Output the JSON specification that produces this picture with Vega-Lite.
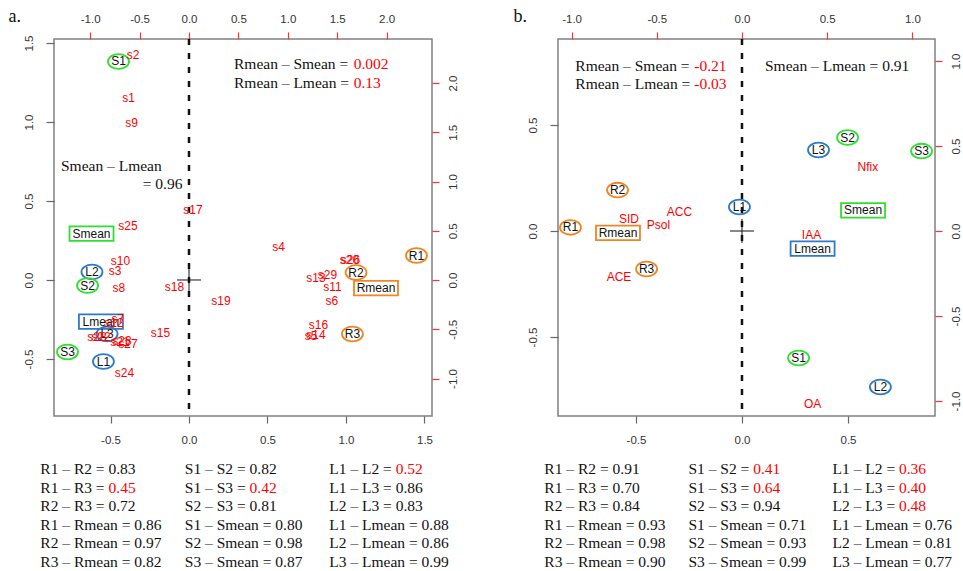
{
  "$schema": "https://vega.github.io/schema/vega-lite/v6.json",
  "padding": {"left": 7, "top": 6, "right": 5, "bottom": 5},
  "background": "white",
  "columns": 2,
  "spacing": {"row": 30, "column": 126},
  "bounds": "flush",
  "datasets": {
    "a_pts": [
      {"label": "S1", "kind": "ellipse", "grp": "S", "x": -0.449, "y": 1.383},
      {"label": "R1", "kind": "ellipse", "grp": "R", "x": 1.449, "y": 0.155},
      {"label": "R2", "kind": "ellipse", "grp": "R", "x": 1.064, "y": 0.047},
      {"label": "R3", "kind": "ellipse", "grp": "R", "x": 1.041, "y": -0.342},
      {"label": "L2", "kind": "ellipse", "grp": "L", "x": -0.618, "y": 0.051},
      {"label": "S2", "kind": "ellipse", "grp": "S", "x": -0.646, "y": -0.035},
      {"label": "L3", "kind": "ellipse", "grp": "L", "x": -0.522, "y": -0.342},
      {"label": "S3", "kind": "ellipse", "grp": "S", "x": -0.774, "y": -0.456},
      {"label": "L1", "kind": "ellipse", "grp": "L", "x": -0.545, "y": -0.516},
      {"label": "Smean", "kind": "box", "grp": "S", "x": -0.621, "y": 0.294},
      {"label": "Rmean", "kind": "box", "grp": "R", "x": 1.191, "y": -0.051},
      {"label": "Lmean", "kind": "box", "grp": "L", "x": -0.561, "y": -0.263}
    ],
    "a_vars": [
      {"label": "s2", "x": -0.567, "y": 2.284},
      {"label": "s1", "x": -0.612, "y": 1.848},
      {"label": "s9", "x": -0.582, "y": 1.589},
      {"label": "s17", "x": 0.04, "y": 0.711},
      {"label": "s25", "x": -0.617, "y": 0.548},
      {"label": "s4", "x": 0.906, "y": 0.33},
      {"label": "s10", "x": -0.693, "y": 0.193},
      {"label": "s3", "x": -0.749, "y": 0.091},
      {"label": "s20", "x": 1.624, "y": 0.203},
      {"label": "s26", "x": 1.635, "y": 0.208},
      {"label": "s13", "x": 1.285, "y": 0.02},
      {"label": "s29", "x": 1.402, "y": 0.051},
      {"label": "s11", "x": 1.452, "y": -0.066},
      {"label": "s6", "x": 1.447, "y": -0.213},
      {"label": "s16", "x": 1.311, "y": -0.457},
      {"label": "s5", "x": 1.235, "y": -0.569},
      {"label": "s14", "x": 1.285, "y": -0.558},
      {"label": "s8", "x": -0.709, "y": -0.081},
      {"label": "s18", "x": -0.147, "y": -0.066},
      {"label": "s19", "x": 0.324, "y": -0.213},
      {"label": "s7", "x": -0.719, "y": -0.396},
      {"label": "s12", "x": -0.759, "y": -0.437},
      {"label": "s28", "x": -0.931, "y": -0.579},
      {"label": "s22", "x": -0.891, "y": -0.579},
      {"label": "s21", "x": -0.698, "y": -0.629},
      {"label": "s23", "x": -0.678, "y": -0.619},
      {"label": "s27", "x": -0.617, "y": -0.65},
      {"label": "s15", "x": -0.288, "y": -0.533},
      {"label": "s24", "x": -0.653, "y": -0.949}
    ],
    "a_notes": [
      {"text": "Rmean – Smean =", "part": "label", "x": 0.2866, "y": 1.3652},
      {"text": "0.002", "part": "value", "x": 1.049, "y": 1.3652},
      {"text": "Rmean – Lmean =", "part": "label", "x": 0.2866, "y": 1.2487},
      {"text": "0.13", "part": "value", "x": 1.049, "y": 1.2487},
      {"text": "Smean – Lmean", "part": "label", "x": -0.8153, "y": 0.7215},
      {"text": "= 0.96", "part": "label", "x": -0.2949, "y": 0.6057}
    ],
    "a_tab": [
      {"col": 1, "row": 1, "grp": "R", "lhs": "R1 – R2 = 0.83", "val": ""},
      {"col": 1, "row": 2, "grp": "R", "lhs": "R1 – R3 =", "val": "0.45"},
      {"col": 1, "row": 3, "grp": "R", "lhs": "R2 – R3 = 0.72", "val": ""},
      {"col": 1, "row": 4, "grp": "R", "lhs": "R1 – Rmean = 0.86", "val": ""},
      {"col": 1, "row": 5, "grp": "R", "lhs": "R2 – Rmean = 0.97", "val": ""},
      {"col": 1, "row": 6, "grp": "R", "lhs": "R3 – Rmean = 0.82", "val": ""},
      {"col": 2, "row": 1, "grp": "S", "lhs": "S1 – S2 = 0.82", "val": ""},
      {"col": 2, "row": 2, "grp": "S", "lhs": "S1 – S3 =", "val": "0.42"},
      {"col": 2, "row": 3, "grp": "S", "lhs": "S2 – S3 = 0.81", "val": ""},
      {"col": 2, "row": 4, "grp": "S", "lhs": "S1 – Smean = 0.80", "val": ""},
      {"col": 2, "row": 5, "grp": "S", "lhs": "S2 – Smean = 0.98", "val": ""},
      {"col": 2, "row": 6, "grp": "S", "lhs": "S3 – Smean = 0.87", "val": ""},
      {"col": 3, "row": 1, "grp": "L", "lhs": "L1 – L2 =", "val": "0.52"},
      {"col": 3, "row": 2, "grp": "L", "lhs": "L1 – L3 = 0.86", "val": ""},
      {"col": 3, "row": 3, "grp": "L", "lhs": "L2 – L3 = 0.83", "val": ""},
      {"col": 3, "row": 4, "grp": "L", "lhs": "L1 – Lmean = 0.88", "val": ""},
      {"col": 3, "row": 5, "grp": "L", "lhs": "L2 – Lmean = 0.86", "val": ""},
      {"col": 3, "row": 6, "grp": "L", "lhs": "L3 – Lmean = 0.99", "val": ""}
    ],
    "b_pts": [
      {"label": "S2", "kind": "ellipse", "grp": "S", "x": 0.498, "y": 0.441},
      {"label": "L3", "kind": "ellipse", "grp": "L", "x": 0.361, "y": 0.382},
      {"label": "S3", "kind": "ellipse", "grp": "S", "x": 0.847, "y": 0.377},
      {"label": "R2", "kind": "ellipse", "grp": "R", "x": -0.587, "y": 0.193},
      {"label": "L1", "kind": "ellipse", "grp": "L", "x": -0.012, "y": 0.113},
      {"label": "R1", "kind": "ellipse", "grp": "R", "x": -0.809, "y": 0.017},
      {"label": "R3", "kind": "ellipse", "grp": "R", "x": -0.45, "y": -0.179},
      {"label": "S1", "kind": "ellipse", "grp": "S", "x": 0.267, "y": -0.599},
      {"label": "L2", "kind": "ellipse", "grp": "L", "x": 0.653, "y": -0.736},
      {"label": "Rmean", "kind": "box", "grp": "R", "x": -0.585, "y": -0.009},
      {"label": "Smean", "kind": "box", "grp": "S", "x": 0.571, "y": 0.097},
      {"label": "Lmean", "kind": "box", "grp": "L", "x": 0.333, "y": -0.083}
    ],
    "b_vars": [
      {"label": "Nfix", "x": 0.739, "y": 0.379},
      {"label": "ACC", "x": -0.367, "y": 0.109},
      {"label": "SID", "x": -0.663, "y": 0.068},
      {"label": "Psol", "x": -0.49, "y": 0.038},
      {"label": "IAA", "x": 0.408, "y": -0.021},
      {"label": "ACE", "x": -0.722, "y": -0.271},
      {"label": "OA", "x": 0.414, "y": -1.015}
    ],
    "b_notes": [
      {"text": "Rmean – Smean =", "part": "label", "x": -0.7863, "y": 0.7783},
      {"text": "-0.21", "part": "value", "x": -0.225, "y": 0.7783},
      {"text": "Rmean – Lmean =", "part": "label", "x": -0.7863, "y": 0.692},
      {"text": "-0.03", "part": "value", "x": -0.225, "y": 0.692},
      {"text": "Smean – Lmean = 0.91", "part": "label", "x": 0.1085, "y": 0.7783}
    ],
    "b_tab": [
      {"col": 1, "row": 1, "grp": "R", "lhs": "R1 – R2 = 0.91", "val": ""},
      {"col": 1, "row": 2, "grp": "R", "lhs": "R1 – R3 = 0.70", "val": ""},
      {"col": 1, "row": 3, "grp": "R", "lhs": "R2 – R3 = 0.84", "val": ""},
      {"col": 1, "row": 4, "grp": "R", "lhs": "R1 – Rmean = 0.93", "val": ""},
      {"col": 1, "row": 5, "grp": "R", "lhs": "R2 – Rmean = 0.98", "val": ""},
      {"col": 1, "row": 6, "grp": "R", "lhs": "R3 – Rmean = 0.90", "val": ""},
      {"col": 2, "row": 1, "grp": "S", "lhs": "S1 – S2 =", "val": "0.41"},
      {"col": 2, "row": 2, "grp": "S", "lhs": "S1 – S3 =", "val": "0.64"},
      {"col": 2, "row": 3, "grp": "S", "lhs": "S2 – S3 = 0.94", "val": ""},
      {"col": 2, "row": 4, "grp": "S", "lhs": "S1 – Smean = 0.71", "val": ""},
      {"col": 2, "row": 5, "grp": "S", "lhs": "S2 – Smean = 0.93", "val": ""},
      {"col": 2, "row": 6, "grp": "S", "lhs": "S3 – Smean = 0.99", "val": ""},
      {"col": 3, "row": 1, "grp": "L", "lhs": "L1 – L2 =", "val": "0.36"},
      {"col": 3, "row": 2, "grp": "L", "lhs": "L1 – L3 =", "val": "0.40"},
      {"col": 3, "row": 3, "grp": "L", "lhs": "L2 – L3 =", "val": "0.48"},
      {"col": 3, "row": 4, "grp": "L", "lhs": "L1 – Lmean = 0.76", "val": ""},
      {"col": 3, "row": 5, "grp": "L", "lhs": "L2 – Lmean = 0.81", "val": ""},
      {"col": 3, "row": 6, "grp": "L", "lhs": "L3 – Lmean = 0.77", "val": ""}
    ]
  },
  "concat": [
    {
      "width": 378,
      "height": 377,
      "layer": [
        {
          "data": {"values": [{"x": 0}]},
          "mark": {"type": "rule", "strokeDash": [6, 8], "strokeWidth": 2.5, "color": "#111"},
          "encoding": {
            "x": {"field": "x", "type": "quantitative", "scale": {"domain": [-0.8599, 1.5478], "nice": false, "zero": false},
              "axis": {"orient": "bottom", "values": [-0.5, 0, 0.5, 1, 1.5], "labelExpr": "replace(format(datum.value,'.1f'),'−','-')", "tickSize": 7, "labelPadding": 11, "title": null}}
          }
        },
        {
          "data": {"values": [{"x": 0, "y": 0}]},
          "mark": {"type": "point", "shape": "M-1,0L1,0M0,-1L0,1", "size": 576, "filled": false, "stroke": "#111", "strokeWidth": 1, "opacity": 1},
          "encoding": {
            "x": {"field": "x", "type": "quantitative", "scale": {"domain": [-0.8599, 1.5478], "nice": false, "zero": false}, "axis": null},
            "y": {"field": "y", "type": "quantitative", "scale": {"domain": [-0.8608, 1.5253], "nice": false, "zero": false},
              "axis": {"orient": "left", "values": [-0.5, 0, 0.5, 1, 1.5], "labelExpr": "replace(format(datum.value,'.1f'),'−','-')", "tickSize": 8, "labelPadding": 12, "labelAngle": -90, "labelAlign": "center", "labelBaseline": "bottom",
                "title": "a.", "titleX": -46, "titleY": -18, "titleAngle": 0, "titleAlign": "left", "titleBaseline": "alphabetic", "titleFont": "Liberation Serif", "titleFontSize": 18, "titleFontWeight": "normal", "titleColor": "#111"}}
          }
        },
        {
          "data": {"name": "a_pts"},
          "transform": [{"filter": "datum.kind == 'ellipse'"}],
          "mark": {"type": "point", "shape": "M-1,0A1,0.7,0,1,1,1,0A1,0.7,0,1,1,-1,0Z", "size": 441, "filled": false, "strokeWidth": 1.8, "opacity": 1},
          "encoding": {
            "x": {"field": "x", "type": "quantitative", "scale": {"domain": [-0.8599, 1.5478], "nice": false, "zero": false}, "axis": null},
            "y": {"field": "y", "type": "quantitative", "scale": {"domain": [-0.8608, 1.5253], "nice": false, "zero": false}, "axis": null},
            "color": {"field": "grp", "type": "nominal", "scale": {"domain": ["R", "S", "L"], "range": ["#f28522", "#2fe02f", "#2b7bc8"]}, "legend": null}
          }
        },
        {
          "data": {"name": "a_pts"},
          "transform": [{"filter": "datum.kind == 'box'"}],
          "mark": {"type": "point", "shape": "M-1,-0.33L1,-0.33L1,0.33L-1,0.33Z", "size": 1936, "filled": false, "strokeWidth": 1.8, "opacity": 1},
          "encoding": {
            "x": {"field": "x", "type": "quantitative", "scale": {"domain": [-0.8599, 1.5478], "nice": false, "zero": false}, "axis": null},
            "y": {"field": "y", "type": "quantitative", "scale": {"domain": [-0.8608, 1.5253], "nice": false, "zero": false}, "axis": null},
            "color": {"field": "grp", "type": "nominal", "scale": {"domain": ["R", "S", "L"], "range": ["#f28522", "#2fe02f", "#2b7bc8"]}, "legend": null}
          }
        },
        {
          "data": {"name": "a_pts"},
          "mark": {"type": "text", "font": "Liberation Sans", "fontSize": 12, "color": "#111", "align": "center", "baseline": "middle"},
          "encoding": {
            "x": {"field": "x", "type": "quantitative", "scale": {"domain": [-0.8599, 1.5478], "nice": false, "zero": false}, "axis": null},
            "y": {"field": "y", "type": "quantitative", "scale": {"domain": [-0.8608, 1.5253], "nice": false, "zero": false}, "axis": null},
            "text": {"field": "label"}
          }
        },
        {
          "data": {"name": "a_notes"},
          "transform": [{"filter": "datum.part == 'label'"}],
          "mark": {"type": "text", "font": "Liberation Serif", "fontSize": 15.5, "color": "#111", "align": "left", "baseline": "middle"},
          "encoding": {
            "x": {"field": "x", "type": "quantitative", "scale": {"domain": [-0.8599, 1.5478], "nice": false, "zero": false}, "axis": null},
            "y": {"field": "y", "type": "quantitative", "scale": {"domain": [-0.8608, 1.5253], "nice": false, "zero": false}, "axis": null},
            "text": {"field": "text"}
          }
        },
        {
          "data": {"name": "a_notes"},
          "transform": [{"filter": "datum.part == 'value'"}],
          "mark": {"type": "text", "font": "Liberation Serif", "fontSize": 15.5, "color": "#ff0000", "align": "left", "baseline": "middle"},
          "encoding": {
            "x": {"field": "x", "type": "quantitative", "scale": {"domain": [-0.8599, 1.5478], "nice": false, "zero": false}, "axis": null},
            "y": {"field": "y", "type": "quantitative", "scale": {"domain": [-0.8608, 1.5253], "nice": false, "zero": false}, "axis": null},
            "text": {"field": "text"}
          }
        },
        {
          "data": {"name": "a_vars"},
          "mark": {"type": "text", "font": "Liberation Sans", "fontSize": 12, "color": "#ff0000", "align": "center", "baseline": "middle"},
          "encoding": {
            "x": {"field": "x", "type": "quantitative", "scale": {"domain": [-1.3664, 2.4595], "nice": false, "zero": false},
              "axis": {"orient": "top", "values": [-1, -0.5, 0, 0.5, 1, 1.5, 2], "labelExpr": "replace(format(datum.value,'.1f'),'−','-')", "tickSize": 7, "tickColor": "#ff3333", "labelPadding": 8, "title": null}},
            "y": {"field": "y", "type": "quantitative", "scale": {"domain": [-1.3807, 2.4467], "nice": false, "zero": false},
              "axis": {"orient": "right", "values": [-1, -0.5, 0, 0.5, 1, 1.5, 2], "labelExpr": "replace(format(datum.value,'.1f'),'−','-')", "tickSize": 7, "tickColor": "#ff3333", "labelPadding": 8, "labelAngle": -90, "labelAlign": "center", "labelBaseline": "top", "title": null}},
            "text": {"field": "label"}
          }
        }
      ],
      "resolve": {"scale": {"x": "independent", "y": "independent"}}
    },
    {
      "width": 377,
      "height": 377,
      "layer": [
        {
          "data": {"values": [{"x": 0}]},
          "mark": {"type": "rule", "strokeDash": [6, 8], "strokeWidth": 2.5, "color": "#111"},
          "encoding": {
            "x": {"field": "x", "type": "quantitative", "scale": {"domain": [-0.8679, 0.9104], "nice": false, "zero": false},
              "axis": {"orient": "bottom", "values": [-0.5, 0, 0.5], "labelExpr": "replace(format(datum.value,'.1f'),'−','-')", "tickSize": 7, "labelPadding": 11, "title": null}}
          }
        },
        {
          "data": {"values": [{"x": 0, "y": 0}]},
          "mark": {"type": "point", "shape": "M-1,0L1,0M0,-1L0,1", "size": 576, "filled": false, "stroke": "#111", "strokeWidth": 1, "opacity": 1},
          "encoding": {
            "x": {"field": "x", "type": "quantitative", "scale": {"domain": [-0.8679, 0.9104], "nice": false, "zero": false}, "axis": null},
            "y": {"field": "y", "type": "quantitative", "scale": {"domain": [-0.8726, 0.9057], "nice": false, "zero": false},
              "axis": {"orient": "left", "values": [-0.5, 0, 0.5], "labelExpr": "replace(format(datum.value,'.1f'),'−','-')", "tickSize": 8, "labelPadding": 12, "labelAngle": -90, "labelAlign": "center", "labelBaseline": "bottom",
                "title": "b.", "titleX": -45, "titleY": -18, "titleAngle": 0, "titleAlign": "left", "titleBaseline": "alphabetic", "titleFont": "Liberation Serif", "titleFontSize": 18, "titleFontWeight": "normal", "titleColor": "#111"}}
          }
        },
        {
          "data": {"name": "b_pts"},
          "transform": [{"filter": "datum.kind == 'ellipse'"}],
          "mark": {"type": "point", "shape": "M-1,0A1,0.7,0,1,1,1,0A1,0.7,0,1,1,-1,0Z", "size": 441, "filled": false, "strokeWidth": 1.8, "opacity": 1},
          "encoding": {
            "x": {"field": "x", "type": "quantitative", "scale": {"domain": [-0.8679, 0.9104], "nice": false, "zero": false}, "axis": null},
            "y": {"field": "y", "type": "quantitative", "scale": {"domain": [-0.8726, 0.9057], "nice": false, "zero": false}, "axis": null},
            "color": {"field": "grp", "type": "nominal", "scale": {"domain": ["R", "S", "L"], "range": ["#f28522", "#2fe02f", "#2b7bc8"]}, "legend": null}
          }
        },
        {
          "data": {"name": "b_pts"},
          "transform": [{"filter": "datum.kind == 'box'"}],
          "mark": {"type": "point", "shape": "M-1,-0.33L1,-0.33L1,0.33L-1,0.33Z", "size": 1936, "filled": false, "strokeWidth": 1.8, "opacity": 1},
          "encoding": {
            "x": {"field": "x", "type": "quantitative", "scale": {"domain": [-0.8679, 0.9104], "nice": false, "zero": false}, "axis": null},
            "y": {"field": "y", "type": "quantitative", "scale": {"domain": [-0.8726, 0.9057], "nice": false, "zero": false}, "axis": null},
            "color": {"field": "grp", "type": "nominal", "scale": {"domain": ["R", "S", "L"], "range": ["#f28522", "#2fe02f", "#2b7bc8"]}, "legend": null}
          }
        },
        {
          "data": {"name": "b_pts"},
          "mark": {"type": "text", "font": "Liberation Sans", "fontSize": 12, "color": "#111", "align": "center", "baseline": "middle"},
          "encoding": {
            "x": {"field": "x", "type": "quantitative", "scale": {"domain": [-0.8679, 0.9104], "nice": false, "zero": false}, "axis": null},
            "y": {"field": "y", "type": "quantitative", "scale": {"domain": [-0.8726, 0.9057], "nice": false, "zero": false}, "axis": null},
            "text": {"field": "label"}
          }
        },
        {
          "data": {"name": "b_notes"},
          "transform": [{"filter": "datum.part == 'label'"}],
          "mark": {"type": "text", "font": "Liberation Serif", "fontSize": 15.5, "color": "#111", "align": "left", "baseline": "middle"},
          "encoding": {
            "x": {"field": "x", "type": "quantitative", "scale": {"domain": [-0.8679, 0.9104], "nice": false, "zero": false}, "axis": null},
            "y": {"field": "y", "type": "quantitative", "scale": {"domain": [-0.8726, 0.9057], "nice": false, "zero": false}, "axis": null},
            "text": {"field": "text"}
          }
        },
        {
          "data": {"name": "b_notes"},
          "transform": [{"filter": "datum.part == 'value'"}],
          "mark": {"type": "text", "font": "Liberation Serif", "fontSize": 15.5, "color": "#ff0000", "align": "left", "baseline": "middle"},
          "encoding": {
            "x": {"field": "x", "type": "quantitative", "scale": {"domain": [-0.8679, 0.9104], "nice": false, "zero": false}, "axis": null},
            "y": {"field": "y", "type": "quantitative", "scale": {"domain": [-0.8726, 0.9057], "nice": false, "zero": false}, "axis": null},
            "text": {"field": "text"}
          }
        },
        {
          "data": {"name": "b_vars"},
          "mark": {"type": "text", "font": "Liberation Sans", "fontSize": 12, "color": "#ff0000", "align": "center", "baseline": "middle"},
          "encoding": {
            "x": {"field": "x", "type": "quantitative", "scale": {"domain": [-1.0798, 1.1326], "nice": false, "zero": false},
              "axis": {"orient": "top", "values": [-1, -0.5, 0, 0.5, 1], "labelExpr": "replace(format(datum.value,'.1f'),'−','-')", "tickSize": 7, "tickColor": "#ff3333", "labelPadding": 8, "title": null}},
            "y": {"field": "y", "type": "quantitative", "scale": {"domain": [-1.0882, 1.1294], "nice": false, "zero": false},
              "axis": {"orient": "right", "values": [-1, -0.5, 0, 0.5, 1], "labelExpr": "replace(format(datum.value,'.1f'),'−','-')", "tickSize": 7, "tickColor": "#ff3333", "labelPadding": 8, "labelAngle": -90, "labelAlign": "center", "labelBaseline": "top", "title": null}},
            "text": {"field": "label"}
          }
        }
      ],
      "resolve": {"scale": {"x": "independent", "y": "independent"}}
    },
    {
      "width": 378,
      "height": 130,
      "view": {"stroke": null},
      "data": {"name": "a_tab"},
      "encoding": {
        "x": {"field": "col", "type": "quantitative", "scale": {"domain": [1.0948, 3.7107], "nice": false, "zero": false}, "axis": null},
        "y": {"field": "row", "type": "quantitative", "scale": {"domain": [-0.24, 6.75], "nice": false, "zero": false, "reverse": true}, "axis": null}
      },
      "layer": [
        {
          "mark": {"type": "text", "font": "Liberation Serif", "fontSize": 15.5, "color": "#111", "align": "left", "baseline": "middle"},
          "encoding": {"text": {"field": "lhs"}}
        },
        {
          "transform": [{"filter": "datum.val != '' && datum.grp == 'R'"}],
          "mark": {"type": "text", "font": "Liberation Serif", "fontSize": 15.5, "color": "#ff0000", "align": "left", "baseline": "middle", "dx": 68.2},
          "encoding": {"text": {"field": "val"}}
        },
        {
          "transform": [{"filter": "datum.val != '' && datum.grp == 'S'"}],
          "mark": {"type": "text", "font": "Liberation Serif", "fontSize": 15.5, "color": "#ff0000", "align": "left", "baseline": "middle", "dx": 64.7},
          "encoding": {"text": {"field": "val"}}
        },
        {
          "transform": [{"filter": "datum.val != '' && datum.grp == 'L'"}],
          "mark": {"type": "text", "font": "Liberation Serif", "fontSize": 15.5, "color": "#ff0000", "align": "left", "baseline": "middle", "dx": 66.4},
          "encoding": {"text": {"field": "val"}}
        }
      ]
    },
    {
      "width": 377,
      "height": 130,
      "view": {"stroke": null},
      "data": {"name": "b_tab"},
      "encoding": {
        "x": {"field": "col", "type": "quantitative", "scale": {"domain": [1.0948, 3.7107], "nice": false, "zero": false}, "axis": null},
        "y": {"field": "row", "type": "quantitative", "scale": {"domain": [-0.24, 6.75], "nice": false, "zero": false, "reverse": true}, "axis": null}
      },
      "layer": [
        {
          "mark": {"type": "text", "font": "Liberation Serif", "fontSize": 15.5, "color": "#111", "align": "left", "baseline": "middle"},
          "encoding": {"text": {"field": "lhs"}}
        },
        {
          "transform": [{"filter": "datum.val != '' && datum.grp == 'S'"}],
          "mark": {"type": "text", "font": "Liberation Serif", "fontSize": 15.5, "color": "#ff0000", "align": "left", "baseline": "middle", "dx": 64.7},
          "encoding": {"text": {"field": "val"}}
        },
        {
          "transform": [{"filter": "datum.val != '' && datum.grp == 'L'"}],
          "mark": {"type": "text", "font": "Liberation Serif", "fontSize": 15.5, "color": "#ff0000", "align": "left", "baseline": "middle", "dx": 66.4},
          "encoding": {"text": {"field": "val"}}
        }
      ]
    }
  ],
  "config": {
    "view": {"stroke": "#808080", "strokeWidth": 1.5},
    "axis": {"grid": false, "domain": false, "labelFont": "Liberation Sans", "labelFontSize": 11.5, "labelColor": "#333", "tickColor": "#666", "tickWidth": 1.2, "labelFlush": false, "labelOverlap": false}
  }
}
